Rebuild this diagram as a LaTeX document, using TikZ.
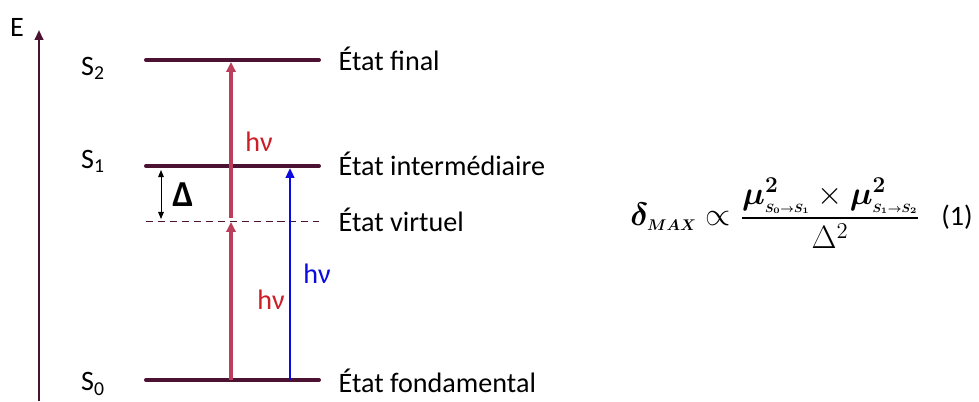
\RequirePackage{fix-cm}
\documentclass[tikz,border=0pt]{standalone}
\usepackage{amsmath,amssymb,bm}
\usepackage{fontspec}
\setmainfont{Carlito}
\usetikzlibrary{arrows.meta,positioning}
\definecolor{lvmaroon}{RGB}{75,18,50}
\definecolor{lvrose}{RGB}{188,62,90}
\definecolor{lvred}{RGB}{205,30,40}
\definecolor{lvblue}{RGB}{10,10,225}
\newcommand{\lvsub}[2][8.5]{\mbox{\fontsize{#1}{#1}\selectfont$\boldsymbol{#2}$}}

\begin{document}
\begin{tikzpicture}[x=0.025cm,y=-0.025cm,font=\fontsize{20}{22}\selectfont,
    level/.style={lvmaroon,line width=2.8pt,line cap=round},
    photon/.style={lvrose,line width=2.3pt,-{Triangle[length=7pt,width=6.5pt]}},
    statelbl/.style={anchor=west,inner sep=1pt}]
  \useasboundingbox (0,0) rectangle (979,401);
  % energy axis
  \coordinate (ebot) at (39,401);
  \coordinate (etop) at (39,30);
  \draw[lvmaroon,line width=1.5pt,-{Triangle[length=7pt,width=6pt]}] (ebot)--(etop);
  \node (elbl) at (17,27) {E};
  % levels
  \coordinate (s2l) at (146,60);  \coordinate (s2r) at (319,60);
  \coordinate (s1l) at (146,166); \coordinate (s1r) at (319,166);
  \coordinate (vl)  at (146,221); \coordinate (vr)  at (319,221);
  \coordinate (s0l) at (146,380); \coordinate (s0r) at (319,380);
  \draw[level] (s2l)--(s2r);
  \draw[level] (s1l)--(s1r);
  \draw[level] (s0l)--(s0r);
  \draw[lvmaroon,line width=0.7pt,dash pattern=on 5pt off 3.5pt] (vl)--(vr);
  \node (s2lbl) at (93,68) {S\textsubscript{2}};
  \node (s1lbl) at (93,161) {S\textsubscript{1}};
  \node (s0lbl) at (93,384) {S\textsubscript{0}};
  \node[statelbl] (fin) at (337,59) {État final};
  \node[statelbl] (inter) at (337,164) {État intermédiaire};
  \node[statelbl] (virt) at (337,220) {État virtuel};
  \node[statelbl] (fond) at (337,381) {État fondamental};
  % two-photon path
  \coordinate (ra) at (231,380); \coordinate (rb) at (231,222);
  \coordinate (rc) at (231,218); \coordinate (rd) at (231,62);
  \draw[photon] (ra)--(rb);
  \draw[photon] (rc)--(rd);
  \node[lvred] (hv1) at (259,142) {hν};
  \node[lvred] (hv2) at (271,300) {hν};
  % one-photon path
  \coordinate (ba) at (290,380); \coordinate (bb) at (290,168);
  \draw[lvblue,line width=1.8pt,-{Triangle[length=7pt,width=6pt]}] (ba)--(bb);
  \node[lvblue] (hv3) at (317,274) {hν};
  % detuning
  \coordinate (da) at (161,170); \coordinate (db) at (161,219);
  \draw[line width=0.7pt,{Triangle[length=5pt,width=4pt]}-{Triangle[length=5pt,width=4pt]}] (da)--(db);
  \node[font=\fontsize{26}{28}\selectfont] (dlbl) at (183,195) {\textbf{Δ}};
  % formula
  \node[inner sep=0pt,font=\fontsize{23}{25}\selectfont] (frac) at (830,213)
    {$\dfrac{\boldsymbol{\mu}^{\boldsymbol{2}}_{\lvsub{S_0{\to}S_1}}\times\boldsymbol{\mu}^{\boldsymbol{2}}_{\lvsub{S_1{\to}S_2}}}{\Delta^2}$};
  \node[anchor=east,inner sep=0pt,font=\fontsize{23}{25}\selectfont] (dmax) at (731,217)
    {$\boldsymbol{\delta}_{\lvsub[11]{MAX}}\propto$};
  \node[anchor=west,inner sep=0pt] (eqno) at (941,217) {(1)};
\end{tikzpicture}
\end{document}
